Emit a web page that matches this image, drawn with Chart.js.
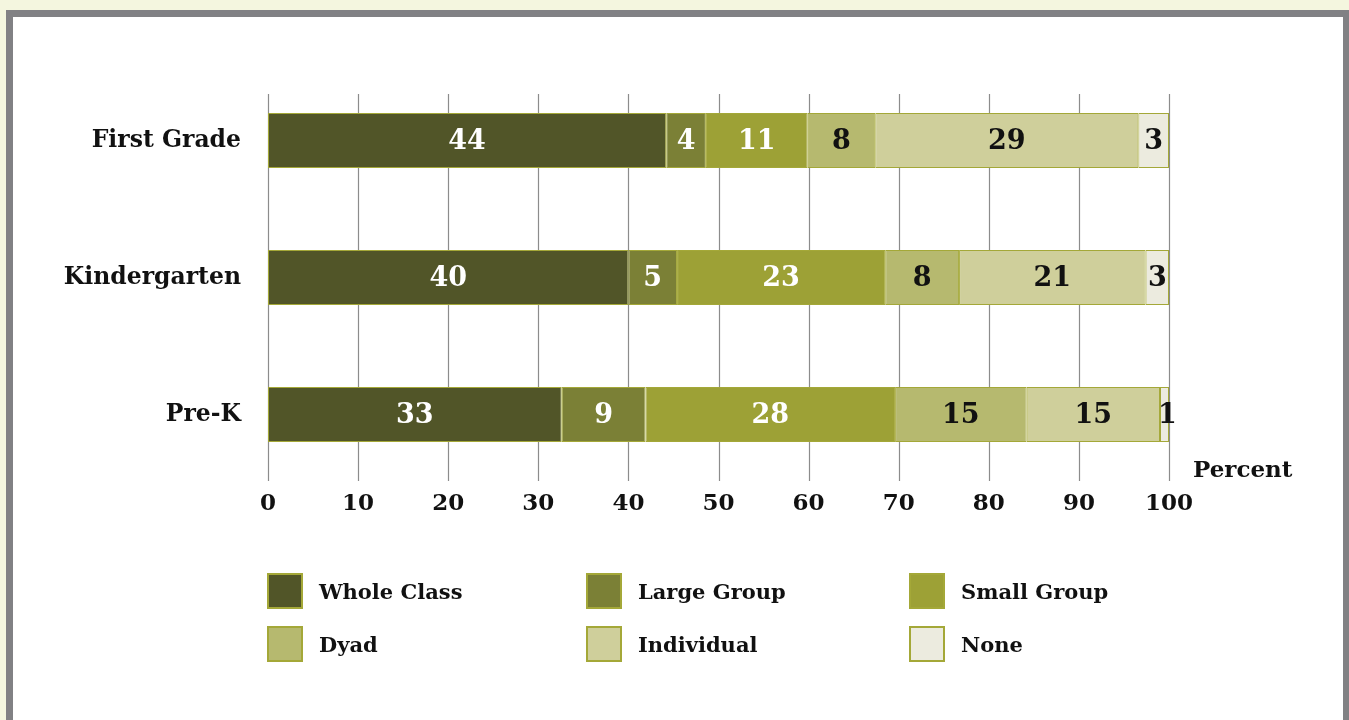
<!DOCTYPE html>
<html>
<head>
<meta charset="utf-8">
<script src="https://cdn.jsdelivr.net/npm/chart.js@4"></script>
<style>
  html, body { margin: 0; padding: 0; width: 1349px; height: 720px; overflow: hidden; background: #f4f6df; }
  #frame { position: absolute; left: 6px; top: 10px; width: 1330px; height: 800px; background: #fff;
           border-left: 7px solid #818184; border-top: 7px solid #818184; border-right: 7px solid #818184; }
  #wrap { position: absolute; left: 0; top: 0; width: 1349px; height: 720px; }
  #legend { position: absolute; left: 0; top: 0; width: 1349px; height: 720px; pointer-events: none; }
  .item { position: absolute; display: flex; align-items: center; font-family: "DejaVu Serif", serif; font-weight: bold; font-size: 21px; color: #111; }
  .sw { width: 32px; height: 32px; border: 2px solid #a4a838; box-sizing: content-box; margin-right: 16px; }
</style>
</head>
<body>
<div id="frame"></div>
<div id="wrap"><canvas id="c" width="1349" height="720"></canvas></div>
<div id="legend"></div>
<script>
const categories = ["First Grade", "Kindergarten", "Pre-K"];
const seriesNames = ["Whole Class", "Large Group", "Small Group", "Dyad", "Individual", "None"];
const wholeClass = [44.2, 40.0, 32.6];
const largeGroup = [4.4, 5.4, 9.3];
const smallGroup = [11.3, 23.1, 27.7];
const dyad = [7.5, 8.2, 14.6];
const individual = [29.2, 20.7, 14.8];
const none = [3.4, 2.6, 1.0];
const xTicks = [0, 10, 20, 30, 40, 50, 60, 70, 80, 90, 100];
const seriesColors = ["#515528", "#7b8036", "#9da136", "#b6b96f", "#cfcf9b", "#ecebdf"];
const labelColors = ["#ffffff", "#ffffff", "#ffffff", "#111111", "#111111", "#111111"];
const allSeries = [wholeClass, largeGroup, smallGroup, dyad, individual, none];

const FONT = '"DejaVu Serif", serif';

const datasets = allSeries.map((d, i) => ({
  label: seriesNames[i],
  data: d,
  backgroundColor: seriesColors[i],
  borderColor: "#a4a838",
  borderWidth: 1,
  borderSkipped: false,
  categoryPercentage: 0.4,
  barPercentage: 1.0
}));

const gridPlugin = {
  id: "grid",
  beforeDatasetsDraw(chart) {
    const ctx = chart.ctx, xs = chart.scales.x, area = chart.chartArea;
    ctx.save();
    ctx.strokeStyle = "#8c8c8c";
    ctx.lineWidth = 1.2;
    xTicks.forEach(v => {
      const x = Math.round(xs.getPixelForValue(v)) + 0.5;
      ctx.beginPath();
      ctx.moveTo(x, area.top + 22);
      ctx.lineTo(x, area.bottom - 2);
      ctx.stroke();
    });
    ctx.restore();
  }
};

const labelPlugin = {
  id: "labels",
  afterDatasetsDraw(chart) {
    const ctx = chart.ctx;
    ctx.save();
    ctx.font = "bold 27px " + FONT;
    ctx.textAlign = "center";
    ctx.textBaseline = "middle";
    chart.data.datasets.forEach((ds, i) => {
      const meta = chart.getDatasetMeta(i);
      meta.data.forEach((el, j) => {
        const v = ds.data[j];
        const cx = (el.x + el.base) / 2;
        ctx.fillStyle = labelColors[i];
        ctx.fillText(String(Math.round(v)), cx + (v < 2 ? 3 : 0), el.y + 1.5);
      });
    });
    // axis unit label
    const xs = chart.scales.x, area = chart.chartArea;
    ctx.font = "bold 23px " + FONT;
    ctx.fillStyle = "#111";
    ctx.textAlign = "left";
    ctx.fillText("Percent", xs.right + 24, area.bottom - 12);
    ctx.restore();
  }
};

new Chart(document.getElementById("c"), {
  type: "bar",
  data: { labels: categories, datasets },
  options: {
    indexAxis: "y",
    responsive: false,
    animation: false,
    events: [],
    layout: { padding: { top: 72, right: 180, bottom: 177, left: 0 } },
    plugins: { legend: { display: false }, tooltip: { enabled: false } },
    scales: {
      x: {
        stacked: true, min: 0, max: 100,
        afterBuildTicks: s => { s.ticks = xTicks.map(v => ({ value: v })); },
        afterFit: s => { s.height = 60; },
        grid: { display: false, drawTicks: false },
        border: { display: false },
        ticks: { padding: 7, color: "#111", font: { family: FONT, weight: "bold", size: 23 } }
      },
      y: {
        stacked: true,
        afterFit: s => { s.width = 268; },
        grid: { display: false, drawTicks: false },
        border: { display: false },
        ticks: { padding: 27, color: "#111", font: { family: FONT, weight: "bold", size: 23.5 } }
      }
    }
  },
  plugins: [gridPlugin, labelPlugin]
});

// legend (HTML), built from series arrays
const legendEl = document.getElementById("legend");
const colX = [267, 586, 909];
const rowY = [573, 626];
seriesNames.forEach((name, i) => {
  const it = document.createElement("div");
  it.className = "item";
  it.style.left = colX[i % 3] + "px";
  it.style.top = rowY[Math.floor(i / 3)] + "px";
  const sw = document.createElement("div");
  sw.className = "sw";
  sw.style.background = seriesColors[i];
  const tx = document.createElement("span");
  tx.textContent = name;
  it.appendChild(sw);
  it.appendChild(tx);
  legendEl.appendChild(it);
});
</script>
</body>
</html>
